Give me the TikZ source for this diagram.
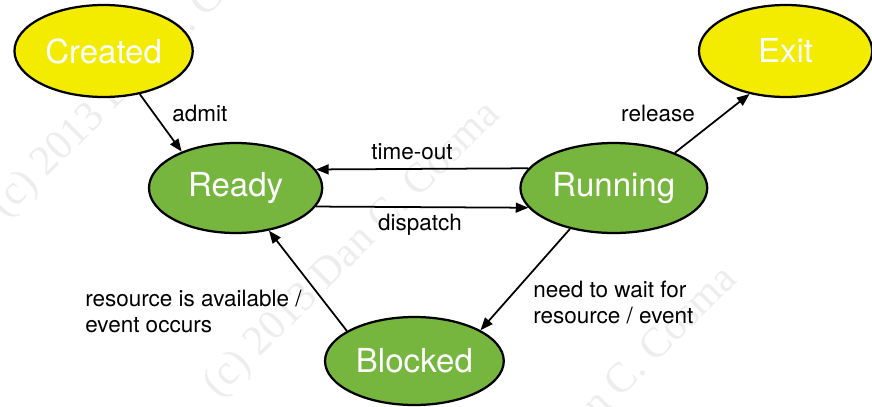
\documentclass[tikz,border=0pt]{standalone}
\usepackage{fontspec}
\setmainfont{TeX Gyre Heros}
\newfontfamily\wmfont{Liberation Serif}
\usetikzlibrary{arrows.meta,positioning,shapes.geometric}
\definecolor{procyellow}{RGB}{243,235,0}
\definecolor{procgreen}{RGB}{118,182,62}

\begin{document}
\begin{tikzpicture}[font=\fontsize{16}{19}\selectfont,
  proc/.style={ellipse,draw,line width=1.6pt,minimum width=4.33cm,minimum height=2.25cm,text=white,font=\fontsize{23.5}{28}\selectfont},
  lbl/.style={inner sep=0pt,align=left},
  arr/.style={-{Triangle[length=9pt,width=7pt]},line width=1.25pt},
  wm/.style={text=black!7,font=\wmfont\fontsize{30}{36}\selectfont,rotate=45}]
\useasboundingbox (0,0) rectangle (21.8,10.15);
% watermark
\begin{scope}
\clip (0,0) rectangle (21.8,10.15);
\node[wm] (wma) at (3.5,8.4) {(c) 2013 Dan C. Cosma};
\node[wm] (wmb) at (8.825,3.9) {(c) 2013 Dan C. Cosma};
\node[wm] (wmc) at (14.75,-0.225) {(c) 2013 Dan C. Cosma};
\end{scope}
% states
\node[proc,fill=procyellow,minimum height=2.3cm] (created) at (2.59,8.875) {Created};
\node[proc,fill=procyellow,minimum height=2.3cm,right=12.6cm of created] (exit) {Exit};
\node[proc,fill=procgreen] (ready) at (5.89,5.45) {Ready};
\node[proc,fill=procgreen,right=4.9cm of ready] (running) {Running};
\node[proc,fill=procgreen,minimum height=2.2cm] (blocked) at (10.36,1.125) {Blocked};
% transitions
\draw[arr] (created.-50) -- (ready.146);
\draw[arr] (running.167) -- (ready.13);
\draw[arr] (ready.-13) -- (running.193);
\draw[arr] (running.30) -- (exit.230);
\draw[arr] (blocked.156) -- (ready.-52);
\draw[arr] (running.-137) -- (blocked.25);
% labels
\node[lbl,anchor=west] (admitl) at (4.3,7.325) {admit};
\node[lbl] (timeoutl) at (10.3,6.35) {time-out};
\node[lbl] (dispatchl) at (10.5,4.525) {dispatch};
\node[lbl] (releasel) at (16.45,7.325) {release};
\node[lbl,anchor=west] (availl) at (2.125,2.3625) {resource is available /\\event occurs};
\node[lbl,anchor=west] (waitl) at (13.325,2.5875) {need to wait for\\resource / event};
\end{tikzpicture}
\end{document}
